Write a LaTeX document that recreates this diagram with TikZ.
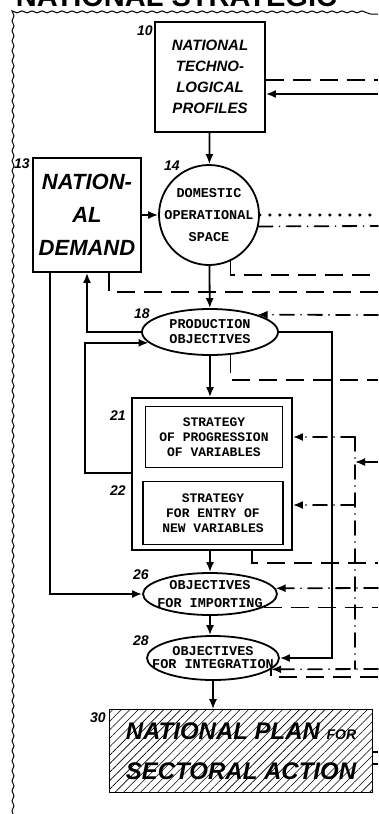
\documentclass[tikz,border=0pt]{standalone}
\usepackage{fontspec}
\setsansfont{Liberation Sans}
\setmonofont{Liberation Mono}
\usetikzlibrary{arrows.meta,patterns.meta,shapes.geometric,decorations.pathmorphing}

\begin{document}
\begin{tikzpicture}[x=1pt, y=-1pt, line width=1.8pt,
    >={Latex[length=10pt, width=8pt]},
    box/.style = {draw, align=center, inner sep=0pt, font=\sffamily\bfseries\itshape},
    sbox/.style = {draw, align=center, inner sep=0pt, font=\ttfamily\bfseries\fontsize{13}{15}\selectfont},
    oval/.style = {draw, ellipse, inner sep=0pt},
    inside/.style = {align=center, inner sep=0pt, font=\ttfamily\bfseries\fontsize{13.5}{#1}\selectfont},
    num/.style = {inner sep=0pt, font=\sffamily\bfseries\itshape\fontsize{14}{14}\selectfont},
    dashline/.style = {dash pattern=on 18pt off 9pt},
    dotline/.style = {line width=3.5pt, line cap=round, dash pattern=on 0pt off 10pt},
    dashdot/.style = {line cap=round, dash pattern=on 14pt off 7pt on 0pt off 7pt},
    wavy/.style = {line width=1pt, decorate, decoration={snake, amplitude=1pt, segment length=10pt}}]

    \useasboundingbox (0,0) rectangle (378,814);

    \node[anchor=base west, inner sep=0pt, font=\sffamily\bfseries\fontsize{29}{29}\selectfont] (title) at (15,6) {NATIONAL STRATEGIC};
    \draw[wavy] (13,814) -- (13,14) -- (378,14);

    \node[box, minimum width=110, minimum height=110, font=\sffamily\bfseries\itshape\fontsize{15}{21}\selectfont] (10) at (210,77) {NATIONAL\\TECHNO-\\LOGICAL\\PROFILES};
    \node[box, minimum width=108, minimum height=114, font=\sffamily\bfseries\itshape\fontsize{22}{33}\selectfont] (13) at (87,215) {NATION-\\AL\\DEMAND};
    \node[draw, circle, minimum size=100, inner sep=0pt] (14) at (209,215) {};
    \node[inside=22] (t14) at (14) {DOMESTIC\\OPERATIONAL\\SPACE};
    \node[oval, minimum width=136, minimum height=46] (18) at (210,332) {};
    \node[inside=15] (t18) at (18) {PRODUCTION\\OBJECTIVES};
    \node[draw, minimum width=160, minimum height=152, inner sep=0pt] (strat) at (212,474) {};
    \node[sbox, minimum width=137, minimum height=61] (21) at (214,437) {STRATEGY\\OF PROGRESSION\\OF VARIABLES};
    \node[sbox, minimum width=140, minimum height=63] (22) at (213,513) {STRATEGY\\FOR ENTRY OF\\NEW VARIABLES};
    \node[oval, minimum width=134, minimum height=42] (26) at (210,594) {};
    \node[inside=18] (t26) at (26) {OBJECTIVES\\FOR IMPORTING};
    \node[oval, minimum width=132, minimum height=44] (28) at (213,658) {};
    \node[inside=13] (t28) at (28) {OBJECTIVES\\FOR INTEGRATION};
    \node[box, minimum width=263, minimum height=83, pattern={Lines[angle=45, distance=6pt, line width=0.6pt]}, font=\sffamily\bfseries\itshape\fontsize{24}{40}\selectfont] (30) at (241,751) {NATIONAL PLAN {\fontsize{14}{14}\selectfont FOR}\\SECTORAL ACTION};

    \node[num] (n10) at (145,31) {10};
    \node[num] (n13) at (22,164) {13};
    \node[num] (n14) at (172,166) {14};
    \node[num] (n18) at (142,314) {18};
    \node[num] (n21) at (118,416) {21};
    \node[num] (n22) at (118,491) {22};
    \node[num] (n26) at (141,575) {26};
    \node[num] (n28) at (141,641) {28};
    \node[num] (n30) at (98,718) {30};

    \coordinate (e1) at (378,80);
    \coordinate (e2) at (378,94);
    \coordinate (e3) at (378,215);
    \coordinate (e4) at (378,226);
    \coordinate (e5) at (378,275);
    \coordinate (e6) at (378,292);
    \coordinate (e7) at (378,315);
    \coordinate (e8) at (378,380);
    \coordinate (e9) at (378,462);
    \coordinate (e10) at (378,563);
    \coordinate (e11) at (378,588);
    \coordinate (e12) at (378,607);
    \coordinate (e13) at (378,669);
    \coordinate (e14) at (378,677);
    \coordinate (e15) at (378,752);
    \coordinate (e16) at (378,764);
    \coordinate (k1) at (85,473);
    \coordinate (v1) at (332,330);
    \coordinate (v2) at (355,437);
    \coordinate (v3) at (355,505);

    \draw[dashline] (10.east |- e1) -- (e1);
    \draw[->] (e2) -- (10.east |- e2);
    \draw[->] (10) -- (14);
    \draw[->] (13) -- (14);
    \draw[dotline] (14.east) -- (e3);
    \draw[dashdot] (14.-13) -- (e4);
    \draw[dashline] (14.-65) |- (e5);
    \draw[dashline] ([xshift=22pt]13.south) |- (e6);
    \draw[->] (14) -- (18);
    \draw[->] ([xshift=-37pt]13.south) |- (26.west);
    \draw[->] (18.west) -| (13.south);
    \draw[->] (k1 -| strat.west) -- (k1) |- (18.190);
    \draw[dashdot, ->] (e7) -- (18.20);
    \draw[->] (18.east) -- (18.east -| v1) |- (28.east);
    \draw[dashline] (18.-48) |- (e8);
    \draw[->] (18) -- (18 |- strat.north);
    \draw[dashdot] (v2) -- (v2 |- e13);
    \draw[dashdot, ->] (v2) -- (v2 -| strat.east);
    \draw[dashdot, ->] (v3) -- (v3 -| strat.east);
    \draw[->] (e9) -- (e9 -| v2);
    \draw[dashline] ([xshift=40pt]strat.south) |- (e10);
    \draw[->] (26 |- strat.south) -- (26);
    \draw[dashdot, ->] (e11) -- (26.5);
    \draw[dashline] (26.-14) -- (26.-14 -| e12);
    \draw[->] (26) -- (26 |- 28.north);
    \draw[dashdot, ->] (e13) -- (28.-11);
    \draw[dashline] (e14) -- (e14 -| 28.-11) -- (28.-11);
    \draw[->] (28.south) -- (28.south |- 30.north);
    \draw (30.east |- e15) -- (e15);
    \draw (30.east |- e16) -- (e16);

\end{tikzpicture}
\end{document}
